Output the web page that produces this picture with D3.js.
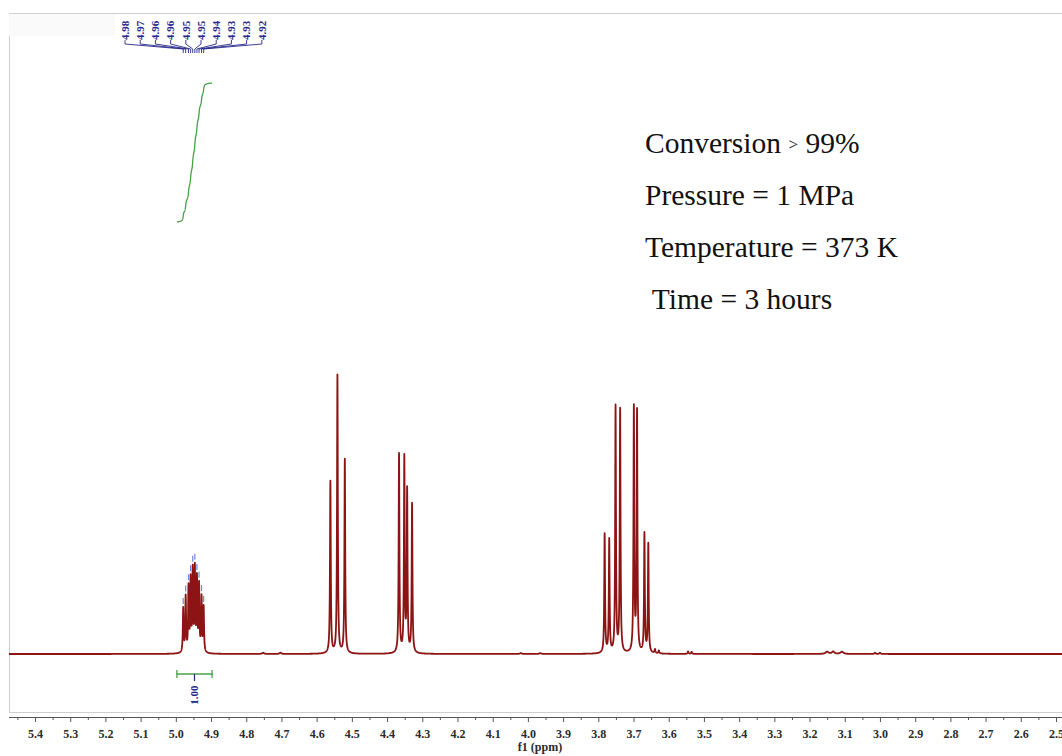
<!DOCTYPE html>
<html>
<head>
<meta charset="utf-8">
<script src="https://cdn.jsdelivr.net/npm/d3@7"></script>
<style>
  body { margin: 0; background: #fff; }
  svg { display: block; }
</style>
</head>
<body>
<script>
// Chemical-shift axis labels (ppm)
const majorTicks = [5.4, 5.3, 5.2, 5.1, 5.0, 4.9, 4.8, 4.7, 4.6, 4.5, 4.4, 4.3, 4.2, 4.1, 4.0,
                    3.9, 3.8, 3.7, 3.6, 3.5, 3.4, 3.3, 3.2, 3.1, 3.0, 2.9, 2.8, 2.7, 2.6, 2.5];
const minorTicks = [5.45, 5.35, 5.25, 5.15, 5.05, 4.95, 4.85, 4.75, 4.65, 4.55, 4.45, 4.35, 4.25,
                    4.15, 4.05, 3.95, 3.85, 3.75, 3.65, 3.55, 3.45, 3.35, 3.25, 3.15, 3.05, 2.95,
                    2.85, 2.75, 2.65, 2.55];

// Resolved lines: shift (ppm) and intensity
const peakPpm    = [4.561, 4.541, 4.520, 4.366, 4.351, 4.343, 4.329,
                    3.782, 3.769, 3.751, 3.738, 3.699, 3.690, 3.669, 3.658];
const peakHeight = [172, 278, 194, 199, 194, 161, 149,
                    119, 113, 246, 243, 244, 240, 119, 109];

// Multiplet lines that carry peak-pick labels
const pickedPpm    = [4.979, 4.972, 4.964, 4.958, 4.952, 4.946, 4.940, 4.934, 4.927, 4.921];
const pickedHeight = [44, 55, 64, 71, 80, 82, 72, 66, 54, 45];

// Weak baseline features
const minorPpm    = [4.752, 4.703, 4.02, 3.965, 3.639, 3.628, 3.545, 3.535, 3.150, 3.133, 3.108, 3.014, 3.000];
const minorHeight = [1.2, 1.2, 0.8, 0.8, 4, 3, 2.5, 2, 2.2, 2.4, 2.2, 1.2, 1.2];
const minorWidth  = [0.003, 0.003, 0.003, 0.003, 0.0015, 0.0015, 0.0015, 0.0015, 0.005, 0.004, 0.005, 0.002, 0.002];

// Integration of the multiplet
const integralFrom = 4.997, integralTo = 4.897, integralValue = 1.00;

// Reaction conditions
const notes = ["Conversion", "Pressure = 1 MPa", "Temperature = 373 K", " Time = 3 hours"];

const W = 1062, H = 756;
const lineWidth = 0.0013;   // Lorentzian half-width, ppm

const svg = d3.select("body").append("svg").attr("width", W).attr("height", H);

const x = d3.scaleLinear().domain([5.4, 2.5]).range([35, 1056]);
const y = d3.scaleLinear().domain([0, 300]).range([654, 354]);

const lor = (p, p0, h, g) => h * g * g / ((p - p0) * (p - p0) + g * g);

function intensity(p) {
  let s = 0;
  for (let i = 0; i < peakPpm.length; i++) s += lor(p, peakPpm[i], peakHeight[i], lineWidth);
  for (let i = 0; i < pickedPpm.length; i++) s += lor(p, pickedPpm[i], pickedHeight[i], lineWidth);
  for (let i = 0; i < minorPpm.length; i++) s += lor(p, minorPpm[i], minorHeight[i], minorWidth[i]);
  return s;
}

// frame
const frame = svg.append("g").attr("stroke", "#cfcfcf").attr("fill", "none");
svg.insert("rect", ":first-child").attr("x", 9).attr("y", 13).attr("width", 106).attr("height", 23).attr("fill", "#fafafa");
frame.append("line").attr("x1", 9).attr("x2", W).attr("y1", 13.5).attr("y2", 13.5);
frame.append("line").attr("x1", 9.5).attr("x2", 9.5).attr("y1", 36).attr("y2", 712);
frame.append("line").attr("x1", 9).attr("x2", W).attr("y1", 712.5).attr("y2", 712.5);

// spectrum trace
svg.append("clipPath").attr("id", "plotClip")
  .append("rect").attr("x", 9).attr("y", 0).attr("width", W - 9).attr("height", 712);

const samples = d3.range(5.5, 2.47, -0.0002).map(p => [p, intensity(p)]);
svg.append("path")
  .datum(samples)
  .attr("clip-path", "url(#plotClip)")
  .attr("fill", "none")
  .attr("stroke", "#8c1414")
  .attr("stroke-width", 1.8)
  .attr("stroke-linejoin", "round")
  .attr("d", d3.line().x(d => x(d[0])).y(d => y(d[1])));

// pick markers above the multiplet lines
pickedPpm.forEach(p => {
  const top = y(intensity(p));
  svg.append("line")
    .attr("x1", x(p)).attr("x2", x(p))
    .attr("y1", top - 3).attr("y2", top - 9)
    .attr("stroke", "#7088d8").attr("stroke-width", 1.2);
});

// peak-pick label fan
const labelColor = "#27278a";
const fanCenter = (x(pickedPpm[0]) + x(pickedPpm[pickedPpm.length - 1])) / 2;
const fanStep = 15.2;
const fan = svg.append("g");
pickedPpm.forEach((p, i) => {
  const lx = fanCenter + (i - (pickedPpm.length - 1) / 2) * fanStep;
  const px = x(p);
  fan.append("path")
    .attr("d", `M${lx},40 V44 L${px},49 V53`)
    .attr("fill", "none").attr("stroke", labelColor).attr("stroke-width", 0.9);
  fan.append("text")
    .attr("transform", `translate(${lx},40) rotate(-90)`)
    .attr("dy", "0.35em")
    .attr("font-family", "Liberation Serif, serif")
    .attr("font-size", 11)
    .attr("font-weight", "bold")
    .attr("fill", labelColor)
    .text(p.toFixed(2));
});

// integral curve
const green = "#48a048";
const intSamples = d3.range(integralFrom, integralTo - 1e-9, -0.0002);
let acc = 0;
const cum = intSamples.map((p, i) => {
  if (i > 0) acc += (intensity(p) + intensity(intSamples[i - 1])) / 2;
  return [p, acc];
});
const intY = d3.scaleLinear().domain([0, acc]).range([222, 83]);
svg.append("path")
  .datum(cum)
  .attr("fill", "none").attr("stroke", green).attr("stroke-width", 1.3)
  .attr("d", d3.line().x(d => x(d[0])).y(d => intY(d[1])));

// integral bracket and value
const bx1 = x(integralFrom), bx2 = x(integralTo), bxm = (bx1 + bx2) / 2;
const br = svg.append("g").attr("stroke", green).attr("stroke-width", 1.3);
br.append("line").attr("x1", bx1).attr("x2", bx2).attr("y1", 674).attr("y2", 674);
br.append("line").attr("x1", bx1).attr("x2", bx1).attr("y1", 670).attr("y2", 678);
br.append("line").attr("x1", bx2).attr("x2", bx2).attr("y1", 670).attr("y2", 678);
svg.append("line").attr("x1", bxm).attr("x2", bxm).attr("y1", 674).attr("y2", 681)
  .attr("stroke", labelColor).attr("stroke-width", 1.2);
svg.append("text")
  .attr("transform", `translate(${bxm},695) rotate(-90)`)
  .attr("dy", "0.35em")
  .attr("text-anchor", "middle")
  .attr("font-family", "Liberation Serif, serif")
  .attr("font-size", 11)
  .attr("font-weight", "bold")
  .attr("fill", labelColor)
  .text(integralValue.toFixed(2));

// axis
svg.append("line").attr("x1", 9).attr("x2", W).attr("y1", 717.5).attr("y2", 717.5)
  .attr("stroke", "#555").attr("stroke-width", 1);
const axMajor = svg.append("g").attr("transform", "translate(0,717)")
  .call(d3.axisBottom(x).tickValues(majorTicks).tickFormat(d3.format(".1f")).tickSize(5).tickPadding(7));
axMajor.select(".domain").remove();
axMajor.selectAll("line").attr("stroke", "#555");
axMajor.selectAll("text")
  .attr("font-family", "Liberation Serif, serif")
  .attr("font-size", 12)
  .attr("font-weight", "bold")
  .attr("fill", "#2a2a2a");
const axMinor = svg.append("g").attr("transform", "translate(0,717)")
  .call(d3.axisBottom(x).tickValues(minorTicks).tickFormat("").tickSize(3));
axMinor.select(".domain").remove();
axMinor.selectAll("line").attr("stroke", "#555");

svg.append("text")
  .attr("x", 540).attr("y", 751)
  .attr("text-anchor", "middle")
  .attr("font-family", "Liberation Serif, serif")
  .attr("font-size", 12)
  .attr("font-weight", "bold")
  .attr("fill", "#2a2a2a")
  .text("f1 (ppm)");

// reaction conditions
const noteG = svg.append("g")
  .attr("font-family", "Liberation Serif, serif")
  .attr("font-size", 29.5)
  .attr("fill", "#111");
const t0 = noteG.append("text").attr("x", 645).attr("y", 153).attr("xml:space", "preserve");
t0.append("tspan").text(notes[0] + " ");
t0.append("tspan").attr("font-size", 17).attr("dy", -3).text(">");
t0.append("tspan").attr("dy", 3).text(" 99%");
notes.slice(1).forEach((s, i) => {
  noteG.append("text")
    .attr("x", 645).attr("y", 205 + i * 52)
    .attr("xml:space", "preserve")
    .text(s);
});
</script>
</body>
</html>
